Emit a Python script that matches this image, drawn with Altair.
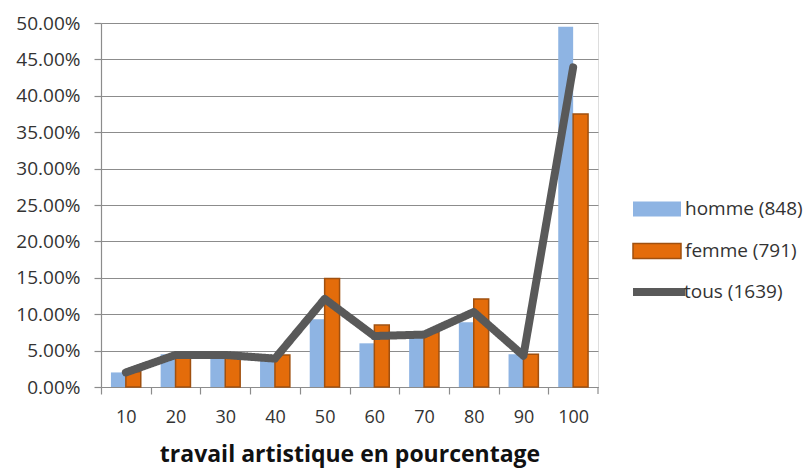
import altair as alt
import pandas as pd

categories = ["10", "20", "30", "40", "50", "60", "70", "80", "90", "100"]
homme = [0.020, 0.045, 0.044, 0.038, 0.093, 0.060, 0.068, 0.089, 0.045, 0.495]
femme = [0.021, 0.041, 0.041, 0.044, 0.149, 0.085, 0.075, 0.121, 0.045, 0.375]
tous = [0.020, 0.044, 0.044, 0.039, 0.121, 0.070, 0.072, 0.103, 0.043, 0.439]
bar_series = ["homme (848)", "femme (791)"]
line_series = ["tous (1639)"]
bar_colors = ["#8EB4E3", "#E46C0A"]
bar_strokes = ["transparent", "#A0500F"]
line_color = "#595959"
y_ticks = [0.0, 0.05, 0.10, 0.15, 0.20, 0.25, 0.30, 0.35, 0.40, 0.45, 0.50]

bars_rows = []
for c, h, f in zip(categories, homme, femme):
    bars_rows.append({"cat": c, "serie": bar_series[0], "val": h})
    bars_rows.append({"cat": c, "serie": bar_series[1], "val": f})
bars_df = pd.DataFrame(bars_rows)
line_df = pd.DataFrame({"cat": categories, "serie2": line_series[0], "val": tous})

W, H = 497, 364
STEP = W / len(categories)
FONT = "Open Sans"
TXT = "#333333"
GRID = "#8c8c8c"

bar_legend = alt.Legend(
    title=None, orient="none", legendX=540, legendY=170, padding=0,
    symbolType="M-1.6,-0.5H1.6V0.5H-1.6Z", symbolSize=900, symbolStrokeWidth=1.5,
    labelFont=FONT, labelFontSize=19, labelColor=TXT, labelOffset=12,
    rowPadding=15, symbolOpacity=1, labelLimit=300,
)
line_legend = alt.Legend(
    title=None, orient="none", legendX=540, legendY=250, padding=0,
    symbolType="M-1.8,0H1.7", symbolSize=900, symbolStrokeWidth=8,
    symbolStrokeColor=line_color, labelLimit=300,
    labelFont=FONT, labelFontSize=19, labelColor=TXT, labelOffset=5,
)

x_enc = alt.X(
    "cat:N", sort=categories,
    scale=alt.Scale(paddingInner=0.4, paddingOuter=0.2),
    axis=alt.Axis(
        title="travail artistique en pourcentage", labelAngle=0,
        bandPosition=0.5, tickOffset=-STEP / 2, labelOffset=STEP / 2,
        domainColor=GRID, domainWidth=1.2, tickColor=GRID, tickWidth=1.2, tickSize=7,
        labelFont=FONT, labelFontSize=18, labelColor=TXT, labelPadding=14,
        titleFont=FONT, titleFontSize=23, titleFontWeight="bold", titleColor="#111111",
        titlePadding=17, grid=False,
    ),
)
y_enc = alt.Y(
    "val:Q", scale=alt.Scale(domain=[0, 0.5], nice=False),
    axis=alt.Axis(
        title=None, values=y_ticks, format=".2%", labelOverlap=False,
        domainColor=GRID, domainWidth=1.2, tickColor=GRID, tickWidth=1.2, tickSize=7,
        gridColor=GRID, gridWidth=1.2, labelFont=FONT, labelFontSize=19,
        labelColor=TXT, labelPadding=14,
    ),
)

bars = alt.Chart(bars_df).mark_bar(strokeWidth=1.5).encode(
    x=x_enc, y=y_enc,
    xOffset=alt.XOffset("serie:N", sort=bar_series),
    color=alt.Color("serie:N", scale=alt.Scale(domain=bar_series, range=bar_colors), legend=bar_legend),
    stroke=alt.Stroke("serie:N", scale=alt.Scale(domain=bar_series, range=bar_strokes), legend=bar_legend),
)

line = alt.Chart(line_df).mark_line(
    strokeWidth=8, strokeCap="round", strokeJoin="round", color=line_color
).encode(
    x=x_enc, y=y_enc,
    strokeDash=alt.StrokeDash("serie2:N", scale=alt.Scale(domain=line_series, range=[[1, 0]]), legend=line_legend),
)

end_tick = alt.Chart(pd.DataFrame({"k": [0]})).mark_rule(color=GRID, strokeWidth=1.2).encode(
    x=alt.value(W), y=alt.value(H), y2=alt.value(H + 7)
)

chart = alt.layer(bars, line, end_tick).properties(
    width=W, height=H,
    autosize=alt.AutoSizeParams(type="none"),
    padding={"left": 93, "top": 15, "right": 205, "bottom": 100},
).configure_view(stroke=None).configure(background="white")

chart.save("out.html", embed_options={"renderer": "svg", "actions": False})
